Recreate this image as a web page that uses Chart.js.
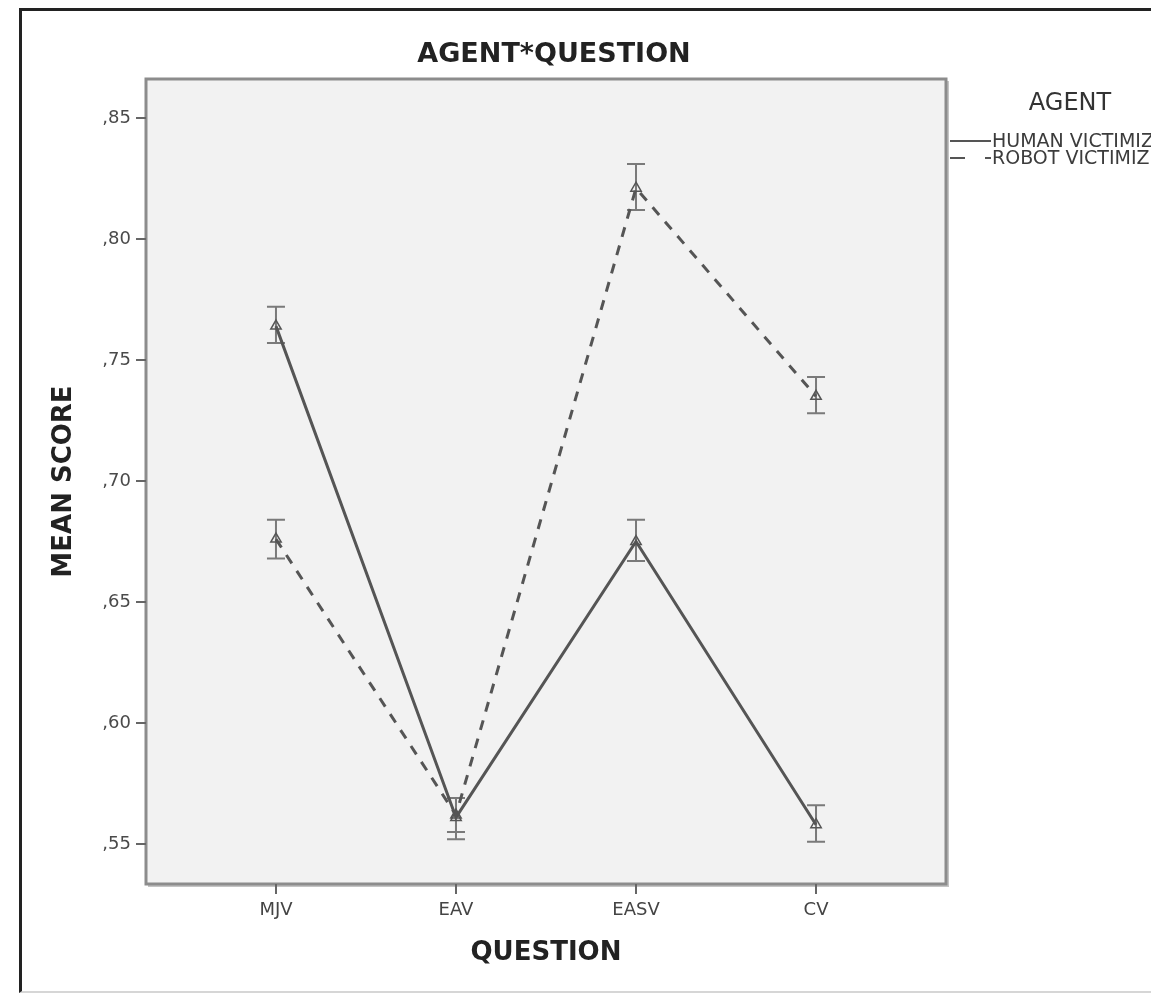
<!DOCTYPE html>
<html>
<head>
<meta charset="utf-8">
<script src="https://cdn.jsdelivr.net/npm/chart.js@4/dist/chart.umd.min.js"></script>
<style>
  html, body { margin: 0; padding: 0; background: #fff; overflow: hidden; }
  #wrap { position: relative; width: 1151px; height: 993px; overflow: hidden; }
  #frame {
    position: absolute; left: 19px; top: 8px; width: 1200px; height: 980px;
    border-left: 3px solid #222; border-top: 3px solid #222; border-bottom: 2px solid #d6d6d6;
  }
  canvas { position: absolute; left: 0; top: 0; }
</style>
</head>
<body>
<div id="wrap">
  <div id="frame"></div>
  <canvas id="chart" width="1151" height="993"></canvas>
</div>
<script>
const questions = ["MJV", "EAV", "EASV", "CV"];
const questionPos = [1, 2, 3, 4];
const agentLabels = ["HUMAN VICTIMIZER", "ROBOT VICTIMIZER"];

const humanMean = [0.764, 0.561, 0.675, 0.558];
const humanLow = [0.757, 0.552, 0.667, 0.551];
const humanHigh = [0.772, 0.569, 0.684, 0.566];

const robotMean = [0.676, 0.562, 0.821, 0.735];
const robotLow = [0.668, 0.555, 0.812, 0.728];
const robotHigh = [0.684, 0.569, 0.831, 0.743];

const yTicks = [0.55, 0.60, 0.65, 0.70, 0.75, 0.80, 0.85];

const FONT = "'DejaVu Sans', sans-serif";
const INK = "#555";

const toPoints = (vals) => questionPos.map((x, i) => ({ x, y: vals[i] }));

// gray plot box, drawn behind everything
const plotBox = {
  id: "plotBox",
  beforeDraw(chart) {
    const { ctx, chartArea: a } = chart;
    ctx.save();
    ctx.fillStyle = "#f2f2f2";
    ctx.fillRect(a.left, a.top, a.right - a.left, a.bottom - a.top);
    // soft shadow on right / bottom
    ctx.strokeStyle = "#c4c4c4";
    ctx.lineWidth = 2;
    ctx.beginPath();
    ctx.moveTo(a.left + 2, a.bottom + 2);
    ctx.lineTo(a.right + 2, a.bottom + 2);
    ctx.lineTo(a.right + 2, a.top + 2);
    ctx.stroke();
    ctx.strokeStyle = "#8c8c8c";
    ctx.lineWidth = 3;
    ctx.strokeRect(a.left, a.top, a.right - a.left, a.bottom - a.top);
    ctx.restore();
  }
};

// I-shaped error bars from errLow / errHigh on each dataset
const errorBars = {
  id: "errorBars",
  beforeDatasetsDraw(chart) {
    const { ctx, scales: { x, y } } = chart;
    ctx.save();
    ctx.strokeStyle = "#7a7a7a";
    ctx.lineWidth = 2;
    chart.data.datasets.forEach((ds) => {
      questionPos.forEach((q, i) => {
        const px = x.getPixelForValue(q);
        const top = y.getPixelForValue(ds.errHigh[i]);
        const bot = y.getPixelForValue(ds.errLow[i]);
        ctx.beginPath();
        ctx.moveTo(px, top);
        ctx.lineTo(px, bot);
        ctx.moveTo(px - 9, top);
        ctx.lineTo(px + 9, top);
        ctx.moveTo(px - 9, bot);
        ctx.lineTo(px + 9, bot);
        ctx.stroke();
      });
    });
    ctx.restore();
  }
};

// title above the box and the SPSS-style legend to the right (runs off the edge)
const headings = {
  id: "headings",
  afterDraw(chart) {
    const { ctx, chartArea: a } = chart;
    ctx.save();
    ctx.fillStyle = "#222";
    ctx.font = "bold 27px " + FONT;
    ctx.textAlign = "center";
    ctx.textBaseline = "middle";
    ctx.fillText("AGENT*QUESTION", 554, 55);

    ctx.fillStyle = "#333";
    ctx.font = "24px " + FONT;
    ctx.fillText("AGENT", 1070, 104);

    ctx.textAlign = "left";
    ctx.font = "19px " + FONT;
    ctx.fillStyle = "#3c3c3c";
    const rows = [141, 158];
    chart.data.datasets.forEach((ds, i) => {
      const yy = rows[i];
      ctx.strokeStyle = INK;
      ctx.lineWidth = 2;
      ctx.setLineDash(i === 0 ? [] : [15, 20]);
      ctx.beginPath();
      ctx.moveTo(a.right + 4, yy);
      ctx.lineTo(a.right + 45, yy);
      ctx.stroke();
      ctx.setLineDash([]);
      ctx.fillText(agentLabels[i], a.right + 46, yy + 1);
    });
    ctx.restore();
  }
};

new Chart(document.getElementById("chart"), {
  type: "line",
  data: {
    datasets: [
      {
        label: agentLabels[0],
        data: toPoints(humanMean),
        errLow: humanLow,
        errHigh: humanHigh,
        borderColor: INK,
        borderWidth: 3,
        pointStyle: "triangle",
        pointRadius: 6,
        pointBorderWidth: 1.5,
        pointBorderColor: INK,
        pointBackgroundColor: "rgba(0,0,0,0)",
        tension: 0
      },
      {
        label: agentLabels[1],
        data: toPoints(robotMean),
        errLow: robotLow,
        errHigh: robotHigh,
        borderColor: INK,
        borderWidth: 3,
        borderDash: [10, 9],
        pointStyle: "triangle",
        pointRadius: 6,
        pointBorderWidth: 1.5,
        pointBorderColor: INK,
        pointBackgroundColor: "rgba(0,0,0,0)",
        tension: 0
      }
    ]
  },
  options: {
    responsive: false,
    animation: false,
    layout: { padding: { left: 20, right: 205, top: 79, bottom: 0 } },
    plugins: {
      legend: { display: false },
      title: { display: false },
      tooltip: { enabled: false }
    },
    scales: {
      x: {
        type: "linear",
        min: 0.278,
        max: 4.722,
        afterFit: (s) => { s.height = 109; },
        afterBuildTicks: (s) => { s.ticks = questionPos.map((v) => ({ value: v })); },
        border: { display: false },
        grid: { drawOnChartArea: false, drawTicks: true, tickLength: 10, color: "#666", lineWidth: 2 },
        ticks: {
          padding: 6,
          color: "#444",
          font: { family: FONT, size: 18 },
          maxRotation: 0,
          callback: (v) => questions[questionPos.indexOf(v)]
        },
        title: {
          display: true,
          text: "QUESTION",
          color: "#222",
          font: { family: FONT, size: 26, weight: "bold" },
          padding: { top: 0, bottom: 24 }
        }
      },
      y: {
        min: 0.5335,
        max: 0.8661,
        afterFit: (s) => { s.width = 126; },
        afterBuildTicks: (s) => { s.ticks = yTicks.map((v) => ({ value: v })); },
        border: { display: false },
        grid: { drawOnChartArea: false, drawTicks: true, tickLength: 10, color: "#666", lineWidth: 2 },
        ticks: {
          padding: 5,
          color: "#4a4a4a",
          font: { family: FONT, size: 18 },
          callback: (v) => v.toFixed(2).replace("0.", ",")
        },
        title: {
          display: true,
          text: "MEAN SCORE",
          color: "#222",
          font: { family: FONT, size: 26, weight: "bold" },
          padding: { top: 29, bottom: 0 }
        }
      }
    }
  },
  plugins: [plotBox, errorBars, headings]
});
</script>
</body>
</html>
